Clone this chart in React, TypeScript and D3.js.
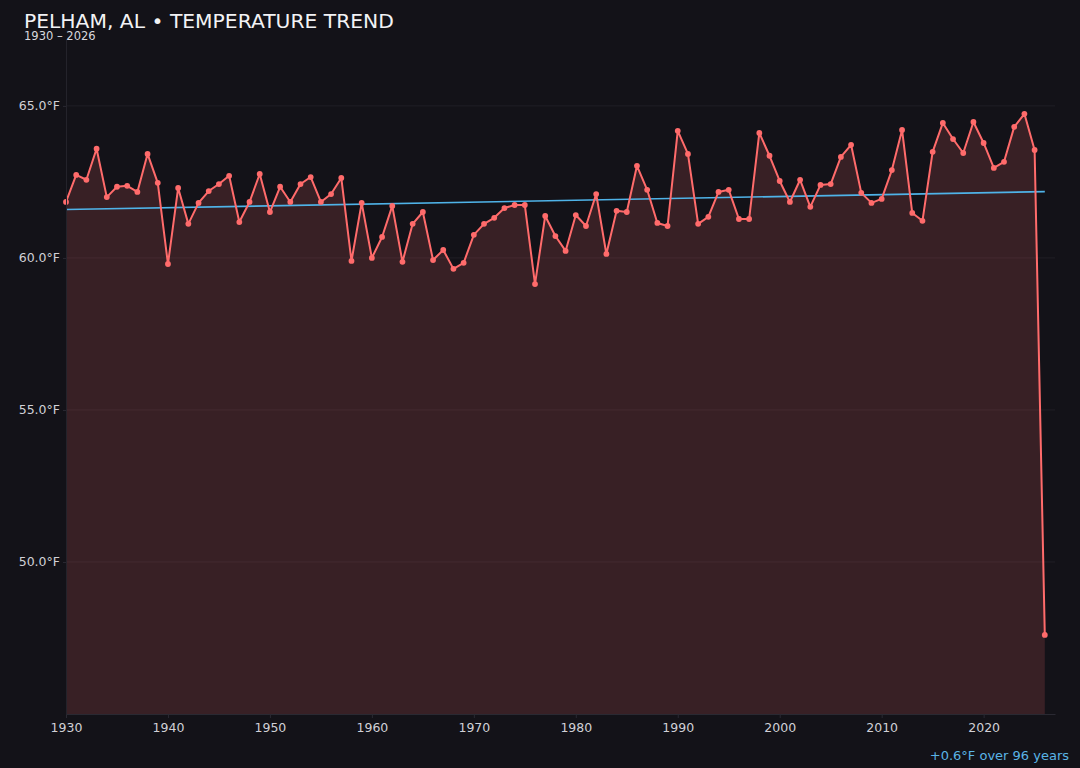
import React, { useEffect, useRef } from 'react';
import * as d3 from 'd3';

// annual mean temperature, °F, 1930–2026
const years: number[] = d3.range(1930, 2027);
const temps: number[] = [
  61.84, 62.73, 62.57, 63.59, 62.0, 62.34, 62.37, 62.17, 63.42, 62.47,
  59.8, 62.3, 61.12, 61.81, 62.2, 62.43, 62.7, 61.18, 61.84, 62.76,
  61.51, 62.34, 61.84, 62.43, 62.66, 61.84, 62.1, 62.63, 59.9, 61.81,
  60.0, 60.69, 61.71, 59.87, 61.12, 61.51, 59.93, 60.26, 59.64, 59.84,
  60.76, 61.12, 61.32, 61.64, 61.74, 61.74, 59.14, 61.38, 60.72, 60.23,
  61.41, 61.05, 62.1, 60.13, 61.55, 61.51, 63.03, 62.24, 61.15, 61.05,
  64.18, 63.42, 61.12, 61.35, 62.17, 62.24, 61.28, 61.28, 64.11, 63.36,
  62.53, 61.84, 62.57, 61.68, 62.4, 62.43, 63.32, 63.72, 62.14, 61.81,
  61.94, 62.89, 64.21, 61.48, 61.22, 63.49, 64.44, 63.91, 63.45, 64.47,
  63.78, 62.96, 63.16, 64.31, 64.74, 63.55, 47.6,
];
const yTicks: number[] = [50, 55, 60, 65];
const xTicks: number[] = [1930, 1940, 1950, 1960, 1970, 1980, 1990, 2000, 2010, 2020];

const TITLE = 'PELHAM, AL • TEMPERATURE TREND';
const SUBTITLE = '1930 – 2026';
const TREND_NOTE = '+0.6°F over 96 years';

const W = 1080;
const H = 768;
const FONT = '"DejaVu Sans", sans-serif';

const Chart = () => {
  const ref = useRef<SVGSVGElement>(null);

  useEffect(() => {
    if (!ref.current) return;
    const svg = d3.select(ref.current);
    svg.selectAll('*').remove();

    const margin = { top: 39, right: 25, bottom: 54, left: 66 };
    const data = years.map((yr, i) => ({ yr, t: temps[i] }));

    svg.append('rect').attr('width', W).attr('height', H).attr('fill', '#131218');

    // ------- Scales -------
    const x = d3.scaleLinear().domain([1930, 2027]).range([margin.left, W - margin.right]);
    const y = d3.scaleLinear().domain([45, 67.2]).range([H - margin.bottom, margin.top]);

    // ------- Grid -------
    svg.append('g')
      .selectAll('line')
      .data(yTicks)
      .enter()
      .append('line')
      .attr('x1', margin.left)
      .attr('x2', W - margin.right)
      .attr('y1', (d) => y(d))
      .attr('y2', (d) => y(d))
      .attr('stroke', '#201f26')
      .attr('stroke-width', 1);

    // ------- Area + line -------
    const area = d3.area<{ yr: number; t: number }>()
      .x((d) => x(d.yr))
      .y0(y(45))
      .y1((d) => y(d.t));

    svg.append('path')
      .datum(data)
      .attr('fill', '#ff6b6b')
      .attr('fill-opacity', 0.16)
      .attr('d', area);

    const line = d3.line<{ yr: number; t: number }>()
      .x((d) => x(d.yr))
      .y((d) => y(d.t));

    // ------- Trend (least squares) -------
    const mx = d3.mean(years)!;
    const my = d3.mean(temps)!;
    const slope = d3.sum(data, (d) => (d.yr - mx) * (d.t - my)) / d3.sum(data, (d) => (d.yr - mx) ** 2);
    const trend = [years[0], years[years.length - 1]].map((yr) => ({ yr, t: my + slope * (yr - mx) }));

    svg.append('path')
      .datum(trend)
      .attr('fill', 'none')
      .attr('stroke', '#4fb3e8')
      .attr('stroke-width', 1.6)
      .attr('d', line);

    svg.append('path')
      .datum(data)
      .attr('fill', 'none')
      .attr('stroke', '#ff6b6b')
      .attr('stroke-width', 2)
      .attr('stroke-linejoin', 'round')
      .attr('d', line);

    svg.selectAll('circle.pt')
      .data(data)
      .enter()
      .append('circle')
      .attr('class', 'pt')
      .attr('cx', (d) => x(d.yr))
      .attr('cy', (d) => y(d.t))
      .attr('r', 2.9)
      .attr('fill', '#ff6b6b');

    // ------- Axes -------
    const xAxis = svg.append('g')
      .attr('transform', `translate(0, ${H - margin.bottom})`)
      .call(d3.axisBottom(x).tickValues(xTicks).tickFormat(d3.format('d')).tickSize(4).tickSizeOuter(0));
    xAxis.select('.domain').attr('stroke', '#2a2932');
    xAxis.selectAll('.tick line').attr('stroke', '#2a2932');
    xAxis.selectAll('.tick text')
      .attr('fill', '#d0d0d6')
      .attr('font-size', 12.5)
      .attr('font-family', FONT)
      .attr('dy', '0.9em');

    const yAxis = svg.append('g')
      .attr('transform', `translate(${margin.left}, 0)`)
      .call(d3.axisLeft(y).tickValues(yTicks).tickFormat((d) => `${(+d).toFixed(1)}°F`).tickSize(3).tickSizeOuter(0));
    yAxis.select('.domain').attr('stroke', '#24232b');
    yAxis.selectAll('.tick line').attr('stroke', '#2a2932');
    yAxis.selectAll('.tick text')
      .attr('fill', '#d0d0d6')
      .attr('font-size', 12.5)
      .attr('font-family', FONT);

    // ------- Titles -------
    svg.append('text')
      .attr('x', 24)
      .attr('y', 28)
      .attr('fill', '#f2f2f5')
      .attr('font-size', 20.3)
      .attr('font-family', FONT)
      .text(TITLE);

    svg.append('text')
      .attr('x', 24)
      .attr('y', 39.5)
      .attr('fill', '#d8d8de')
      .attr('font-size', 11.5)
      .attr('font-family', FONT)
      .text(SUBTITLE);

    svg.append('text')
      .attr('x', 1069)
      .attr('y', 760)
      .attr('text-anchor', 'end')
      .attr('fill', '#5ab4e6')
      .attr('font-size', 13)
      .attr('font-family', FONT)
      .text(TREND_NOTE);
  }, []);

  return <svg ref={ref} width={W} height={H} style={{ position: 'absolute', left: 0, top: 0, display: 'block' }} />;
};

export default function App() {
  return <Chart />;
}
